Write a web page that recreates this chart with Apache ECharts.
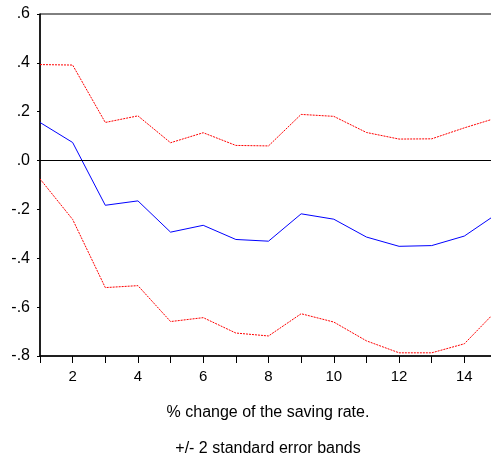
<!DOCTYPE html>
<html>
<head>
<meta charset="utf-8">
<script src="https://cdn.jsdelivr.net/npm/echarts@6/dist/echarts.min.js"></script>
<style>
html,body{margin:0;padding:0;background:#fff;}
#chart{width:491px;height:462px;}
</style>
</head>
<body>
<div id="chart"></div>
<script>
const periods = [1,2,3,4,5,6,7,8,9,10,11,12,13,14,15];
const response = [0.156,0.074,-0.183,-0.165,-0.293,-0.265,-0.323,-0.330,-0.218,-0.240,-0.313,-0.351,-0.348,-0.309,-0.218];
const upperBand = [0.393,0.391,0.156,0.183,0.073,0.114,0.062,0.060,0.189,0.181,0.115,0.088,0.089,0.134,0.175];
const lowerBand = [-0.075,-0.241,-0.520,-0.512,-0.659,-0.643,-0.706,-0.718,-0.627,-0.661,-0.738,-0.787,-0.787,-0.750,-0.612];
const titleText = '% change of the saving rate.';
const noteText = '+/- 2 standard error bands';

const pair = arr => periods.map((p, i) => [p, arr[i]]);
const font = 'Liberation Sans, Arial, Helvetica, sans-serif';

const chart = echarts.init(document.getElementById('chart'));
chart.setOption({
  animation: false,
  backgroundColor: '#fff',
  grid: {left: 40, top: 14, right: -6, bottom: 106, show: true, borderColor: '#000', borderWidth: 1,
    containLabel: false, outerBoundsMode: 'none'},
  xAxis: {
    type: 'value', min: 1, max: 15, interval: 1,
    axisLine: {show: true, onZero: false, lineStyle: {color: '#000', width: 1.5}},
    axisTick: {show: true, length: 7, lineStyle: {color: '#000', width: 1}},
    axisLabel: {color: '#000', fontSize: 15, fontFamily: font, margin: 13,
      formatter: v => (v % 2 === 0 ? String(v) : '')},
    splitLine: {show: false}
  },
  yAxis: {
    type: 'value', min: -0.8, max: 0.6, interval: 0.2,
    axisLine: {show: true, onZero: false, lineStyle: {color: '#000', width: 1.5}},
    axisTick: {show: true, length: 3, lineStyle: {color: '#000', width: 1}},
    axisLabel: {color: '#000', fontSize: 16, fontFamily: font, margin: 10,
      formatter: v => { const s = (Math.round(v * 10) / 10).toFixed(1); return s.replace('0.', '.'); }},
    splitLine: {show: false}
  },
  series: [
    {type: 'line', data: pair(upperBand), symbol: 'none', lineStyle: {color: '#ff0000', width: 1, type: [2, 1]}},
    {type: 'line', data: pair(lowerBand), symbol: 'none', lineStyle: {color: '#ff0000', width: 1, type: [2, 1]}},
    {type: 'line', data: pair(response), symbol: 'none', lineStyle: {color: '#0000ff', width: 1},
      markLine: {silent: true, symbol: 'none', label: {show: false},
        lineStyle: {color: '#000', width: 1, type: 'solid'}, data: [{yAxis: 0}]}}
  ],
  graphic: [
    {type: 'text', x: 268, y: 413, style: {text: titleText, fill: '#000', font: '16px ' + font, textAlign: 'center', textVerticalAlign: 'middle'}},
    {type: 'text', x: 268, y: 449, style: {text: noteText, fill: '#000', font: '16px ' + font, textAlign: 'center', textVerticalAlign: 'middle'}}
  ]
});
</script>
</body>
</html>
